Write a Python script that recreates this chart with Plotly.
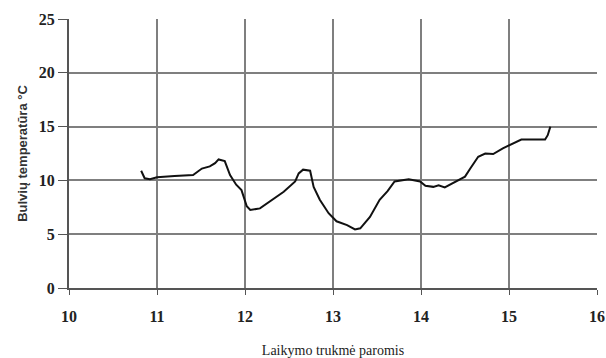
import plotly.graph_objects as go

days = [10.82, 10.86, 10.92, 11.0, 11.2, 11.41, 11.51, 11.60, 11.66, 11.70, 11.77, 11.83, 11.90, 11.96,
        12.02, 12.06, 12.17, 12.28, 12.44, 12.57, 12.61, 12.66, 12.74, 12.78, 12.85, 12.95, 13.04, 13.16,
        13.25, 13.31, 13.42, 13.53, 13.62, 13.70, 13.86, 13.99, 14.05, 14.14, 14.20, 14.27, 14.41, 14.50,
        14.56, 14.65, 14.73, 14.82, 14.93, 15.03, 15.14, 15.30, 15.41, 15.44, 15.47]
temps = [10.9, 10.2, 10.1, 10.3, 10.4, 10.5, 11.1, 11.3, 11.6, 11.95, 11.8, 10.5, 9.6, 9.1,
         7.6, 7.25, 7.4, 8.0, 8.95, 9.9, 10.65, 11.0, 10.9, 9.4, 8.2, 6.95, 6.2, 5.85,
         5.45, 5.55, 6.6, 8.2, 9.0, 9.9, 10.1, 9.9, 9.5, 9.4, 9.55, 9.35, 10.0, 10.35,
         11.1, 12.2, 12.5, 12.45, 12.98, 13.4, 13.8, 13.8, 13.8, 14.2, 15.0]

x_ticks = [10, 11, 12, 13, 14, 15, 16]
y_ticks = [0, 5, 10, 15, 20, 25]

serif = "Liberation Serif, Times New Roman, serif"
tickfont = dict(family=serif, size=16, color="#222222", weight="bold")

fig = go.Figure()
fig.add_trace(go.Scatter(x=days, y=temps, mode="lines",
                         line=dict(color="#111111", width=2), showlegend=False))

fig.update_layout(
    width=606, height=358,
    margin=dict(l=69, r=9, t=19, b=70),
    plot_bgcolor="white", paper_bgcolor="white",
    font=dict(family=serif, size=14, color="#222222"),
    xaxis=dict(range=[10, 16], tickvals=x_ticks, showgrid=True, gridcolor="#7f7f7f", gridwidth=2,
               showline=True, linecolor="#555555", linewidth=2, ticks="outside", ticklen=5,
               tickcolor="#555555", zeroline=False, automargin=False, tickfont=tickfont,
               ticklabelstandoff=8,
               title=dict(text="Laikymo trukmė paromis", standoff=21,
                          font=dict(family=serif, size=14, color="#222222"))),
    yaxis=dict(range=[0, 25], tickvals=y_ticks, showgrid=True, gridcolor="#7f7f7f", gridwidth=2,
               showline=True, linecolor="#555555", linewidth=2, ticks="outside", ticklen=9,
               tickcolor="#555555", zeroline=False, automargin=False, tickfont=tickfont,
               title=dict(text="<b>Bulvių temperatūra °C</b>", standoff=8,
                          font=dict(family="Liberation Sans, Arial, sans-serif", size=13, color="#333333"))),
)

fig.write_html("out.html", config={"displayModeBar": False},
               post_script="document.body.style.margin='0px';document.body.style.overflow='hidden';")
